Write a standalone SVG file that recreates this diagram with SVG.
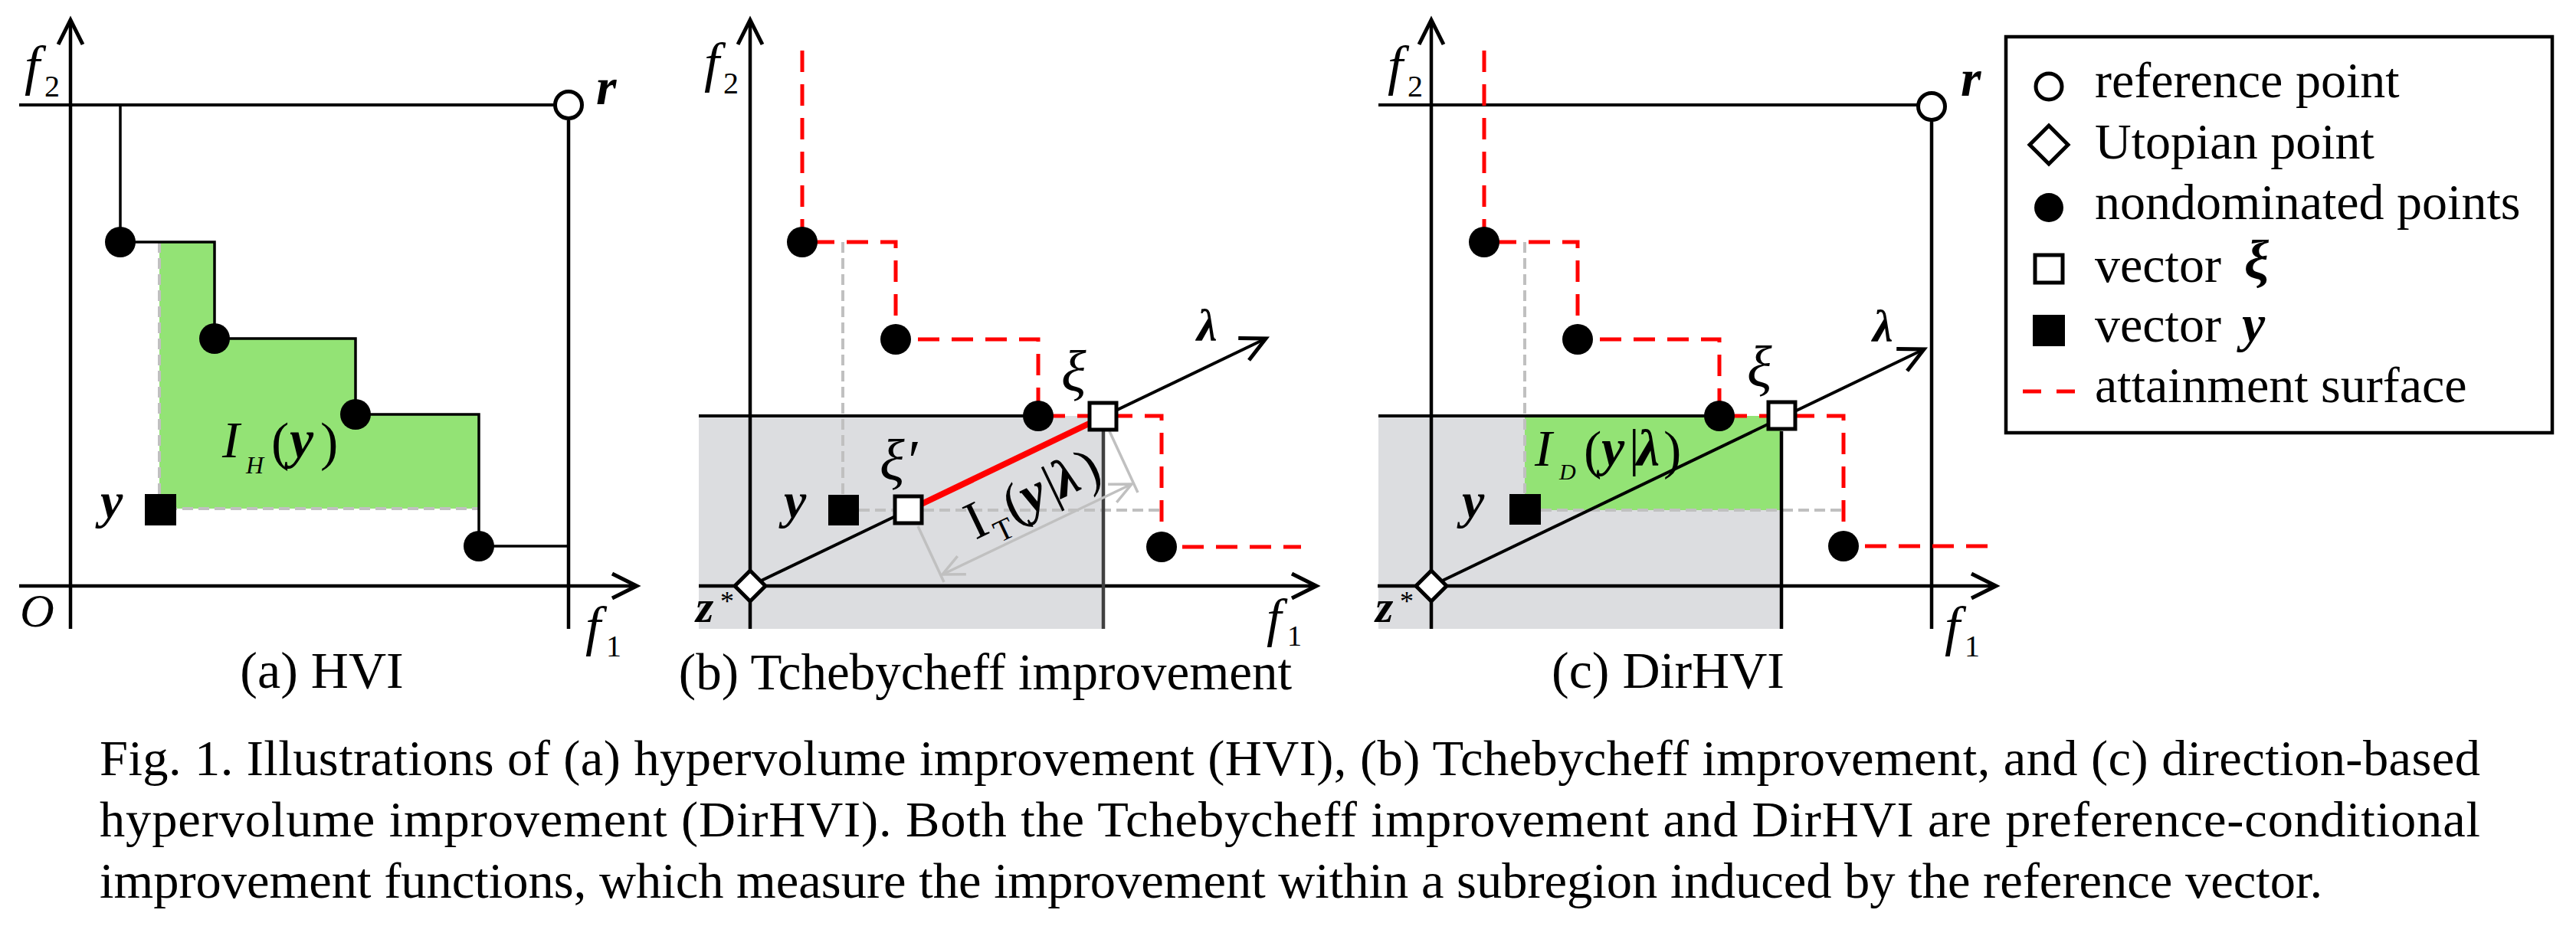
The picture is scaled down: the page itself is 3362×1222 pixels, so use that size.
<svg xmlns="http://www.w3.org/2000/svg" width="3362" height="1222" viewBox="0 0 3362 1222">
<style>
.ax{stroke:#000;stroke-width:4.5;fill:none}
.ln{stroke:#000;stroke-width:4;fill:none}
.step{stroke:#000;stroke-width:3.5;fill:none}
.red{stroke:#f00;stroke-width:5;stroke-dasharray:28 16;fill:none}
.gd{stroke:#c0c0c0;stroke-width:4;stroke-dasharray:14 7;fill:none}
.gl{stroke:#c0c0c0;stroke-width:3.5;fill:none}
.pt{fill:#000}
.sq{fill:#fff;stroke:#000;stroke-width:5}
.ref{fill:#fff;stroke:#000;stroke-width:5}
.green{fill:#93e375}
.grey{fill:#dcdde0}
.t{font-family:"Liberation Serif","Times New Roman",serif;fill:#000}
.it{font-style:italic}
.bi{font-style:italic;font-weight:bold}
</style>
<defs>
<marker id="ah" viewBox="-40 -25 50 50" refX="0" refY="0" markerWidth="50" markerHeight="50" markerUnits="userSpaceOnUse" orient="auto">
<path d="M-32,-16 L0,0 L-32,16" fill="none" stroke="#000" stroke-width="5"/>
</marker>
<marker id="ag" viewBox="-40 -25 50 50" refX="0" refY="0" markerWidth="50" markerHeight="50" markerUnits="userSpaceOnUse" orient="auto-start-reverse">
<path d="M-28,-13 L0,0 L-28,13" fill="none" stroke="#c0c0c0" stroke-width="3.5"/>
</marker>
</defs>
<rect width="3362" height="1222" fill="#fff"/>

<!-- Panel (a) -->
<g id="panel-a">
<path class="green" d="M208,316 H280 V442 H464 V541 H625 V664 H208 Z"/>
<path class="gd" d="M208,316 V664 H625"/>
<g id="a-connectors">
<path class="ax" d="M92,821 V26" marker-end="url(#ah)"/>
<path class="ax" d="M25,765 H831" marker-end="url(#ah)"/>
<path class="ln" d="M25,137 H724"/>
<path class="ax" d="M742,157 V821"/>
<path class="step" d="M157,137 V316 H280 V442 H464 V541 H625 V713 H742"/>
</g>
<g id="a-ref"><circle class="ref" cx="742" cy="137" r="17.5"/></g>
<g id="a-points">
<circle class="pt" cx="157" cy="316" r="20"/>
<circle class="pt" cx="280" cy="442" r="20"/>
<circle class="pt" cx="464" cy="541" r="20"/>
<circle class="pt" cx="625" cy="713" r="20"/>
</g>
<g id="a-y"><rect class="pt" x="189" y="645" width="41" height="41"/></g>
<text class="t it" x="32" y="110" font-size="72">f</text>
<text class="t" x="58" y="126" font-size="40">2</text>
<text class="t it" x="26" y="818" font-size="62">O</text>
<text class="t it" x="764" y="842" font-size="72">f</text>
<text class="t" x="791" y="857" font-size="40">1</text>
<text class="t bi" x="778" y="136" font-size="68">r</text>
<text class="t bi" x="131" y="676" font-size="66">y</text>
<text class="t it" x="290" y="597" font-size="68">I</text>
<text class="t it" x="321" y="618" font-size="32">H</text>
<text class="t" x="354" y="600" font-size="70">(</text>
<text class="t bi" x="378" y="597" font-size="70">y</text>
<text class="t" x="418" y="600" font-size="70">)</text>
<text class="t" x="420" y="898" font-size="68" text-anchor="middle">(a) HVI</text>
</g>

<!-- Panel (b) -->
<g id="panel-b">
<rect class="grey" x="912" y="543" width="528" height="278"/>
<path class="gd" d="M1100,316 V646"/>
<path class="gd" d="M1121,666 H1517"/>
<g id="b-connectors">
<path class="ax" d="M979,821 V26" marker-end="url(#ah)"/>
<path class="ax" d="M912,765 H1718" marker-end="url(#ah)"/>
<path class="ln" d="M912,543 H1355"/>
<path d="M1440,563 V821" stroke="#404040" stroke-width="4.5" fill="none"/>
<path class="red" d="M1047,66 V316 H1169 V443 H1355 V543 H1516 V714 H1698"/>
<path class="ln" d="M979,765 L1652,442" marker-end="url(#ah)"/>
<path d="M1186,666 L1440,544" stroke="#f00" stroke-width="8" fill="none"/>
<path class="gl" d="M1198,687 L1232,760"/>
<path class="gl" d="M1448,563 L1485,643"/>
<path class="gl" d="M1230,750 L1477,632" marker-start="url(#ag)" marker-end="url(#ag)"/>
</g>
<g id="b-points">
<circle class="pt" cx="1047" cy="316" r="20"/>
<circle class="pt" cx="1169" cy="443" r="20"/>
<circle class="pt" cx="1355" cy="543" r="20"/>
<circle class="pt" cx="1516" cy="714" r="20"/>
</g>
<g id="b-z"><path class="sq" d="M979,745 L999,765 L979,785 L959,765 Z"/></g>
<g id="b-y"><rect class="pt" x="1081" y="646" width="40" height="40"/></g>
<g id="b-xi2"><rect class="sq" x="1168" y="648" width="35" height="35"/></g>
<g id="b-xi"><rect class="sq" x="1422" y="526" width="35" height="35"/></g>
<text class="t it" x="919" y="106" font-size="72">f</text>
<text class="t" x="944" y="122" font-size="40">2</text>
<text class="t it" x="1653" y="830" font-size="70">f</text>
<text class="t" x="1680" y="843" font-size="38">1</text>
<text class="t bi" x="908" y="812" font-size="60">z</text>
<text class="t" x="940" y="797" font-size="36">*</text>
<text class="t bi" x="1023" y="676" font-size="66">y</text>
<text class="t it" x="1148" y="627" font-size="76">ξ′</text>
<text class="t it" x="1385" y="511" font-size="76">ξ</text>
<text class="t bi" x="1562" y="445" font-size="60">λ</text>
<g transform="translate(1273,705) rotate(-25.6)">
<text class="t" x="0" y="0" font-size="70">I</text>
<text class="t" x="27" y="17" font-size="40">T</text>
<text class="t" x="54" y="2" font-size="72">(</text>
<text class="t bi" x="78" y="0" font-size="70">y</text>
<text class="t" x="113" y="0" font-size="70">|</text>
<text class="t bi" x="125" y="0" font-size="70">λ</text>
<text class="t" x="162" y="2" font-size="72">)</text>
</g>
<text class="t" x="1286" y="900" font-size="67" text-anchor="middle">(b) Tchebycheff improvement</text>
</g>

<!-- Panel (c) -->
<g id="panel-c">
<rect class="grey" x="1799" y="543" width="526" height="278"/>
<rect class="green" x="1990" y="543" width="335" height="123"/>
<path class="gd" d="M1990,316 V644"/>
<path class="gd" d="M2011,666 H2406"/>
<g id="c-connectors">
<path class="ax" d="M1868,821 V26" marker-end="url(#ah)"/>
<path class="ax" d="M1798,765 H2605" marker-end="url(#ah)"/>
<path class="ln" d="M1799,137 H2503"/>
<path class="ax" d="M2521,157 V821"/>
<path class="ln" d="M1799,543 H2244"/>
<path class="ax" d="M2325,563 V821"/>
<path class="red" d="M1937,66 V316 H2059 V443 H2244 V543 H2406 V713 H2597"/>
<path class="ln" d="M1868,765 L2511,456" marker-end="url(#ah)"/>
</g>
<g id="c-ref"><circle class="ref" cx="2521" cy="139" r="17.5"/></g>
<g id="c-points">
<circle class="pt" cx="1937" cy="316" r="20"/>
<circle class="pt" cx="2059" cy="443" r="20"/>
<circle class="pt" cx="2244" cy="543" r="20"/>
<circle class="pt" cx="2406" cy="713" r="20"/>
</g>
<g id="c-z"><path class="sq" d="M1868,745 L1888,765 L1868,785 L1848,765 Z"/></g>
<g id="c-y"><rect class="pt" x="1970" y="645" width="41" height="40"/></g>
<g id="c-xi"><rect class="sq" x="2308" y="525" width="35" height="35"/></g>
<text class="t it" x="1811" y="110" font-size="72">f</text>
<text class="t" x="1837" y="126" font-size="40">2</text>
<text class="t it" x="2538" y="842" font-size="72">f</text>
<text class="t" x="2564" y="857" font-size="40">1</text>
<text class="t bi" x="2559" y="125" font-size="68">r</text>
<text class="t bi" x="1795" y="812" font-size="60">z</text>
<text class="t" x="1827" y="797" font-size="36">*</text>
<text class="t bi" x="1908" y="676" font-size="66">y</text>
<text class="t it" x="2280" y="505" font-size="76">ξ</text>
<text class="t bi" x="2444" y="446" font-size="60">λ</text>
<text class="t it" x="2003" y="608" font-size="68">I</text>
<text class="t it" x="2035" y="626" font-size="30">D</text>
<text class="t" x="2067" y="611" font-size="70">(</text>
<text class="t bi" x="2090" y="608" font-size="68">y</text>
<text class="t" x="2126" y="608" font-size="68">|</text>
<text class="t bi" x="2136" y="608" font-size="68">λ</text>
<text class="t" x="2171" y="611" font-size="70">)</text>
<text class="t" x="2177" y="898" font-size="68" text-anchor="middle">(c) DirHVI</text>
</g>

<!-- Legend -->
<g id="legend">
<rect x="2618" y="48" width="713" height="517" fill="none" stroke="#000" stroke-width="4.5"/>
<g id="leg-ref"><circle class="ref" cx="2674" cy="113" r="17"/><text class="t" x="2734" y="127" font-size="66">reference point</text></g>
<g id="leg-utopian"><path class="sq" d="M2674,164 L2699,189 L2674,214 L2649,189 Z"/><text class="t" x="2734" y="207" font-size="66">Utopian point</text></g>
<g id="leg-nd"><circle class="pt" cx="2674" cy="271" r="19"/><text class="t" x="2734" y="286" font-size="66">nondominated points</text></g>
<g id="leg-xi"><rect class="sq" x="2656" y="333" width="36" height="36"/><text class="t" x="2734" y="368" font-size="66">vector </text><text class="t bi" x="2929" y="364" font-size="72">ξ</text></g>
<g id="leg-y"><rect class="pt" x="2653" y="411" width="42" height="41"/><text class="t" x="2734" y="446" font-size="66">vector </text><text class="t bi" x="2926" y="446" font-size="68">y</text></g>
<g id="leg-att"><path d="M2640,511 H2710" stroke="#f00" stroke-width="5" stroke-dasharray="24 20" fill="none"/><text class="t" x="2734" y="525" font-size="66">attainment surface</text></g>
</g>

<!-- Caption -->
<g id="caption">
<text class="t" x="130" y="1012" font-size="66.5" textLength="3107" lengthAdjust="spacing">Fig. 1. Illustrations of (a) hypervolume improvement (HVI), (b) Tchebycheff improvement, and (c) direction-based</text>
<text class="t" x="130" y="1092" font-size="66.5" textLength="3107" lengthAdjust="spacing">hypervolume improvement (DirHVI). Both the Tchebycheff improvement and DirHVI are preference-conditional</text>
<text class="t" x="130" y="1172" font-size="66.5">improvement functions, which measure the improvement within a subregion induced by the reference vector.</text>
</g>
</svg>
